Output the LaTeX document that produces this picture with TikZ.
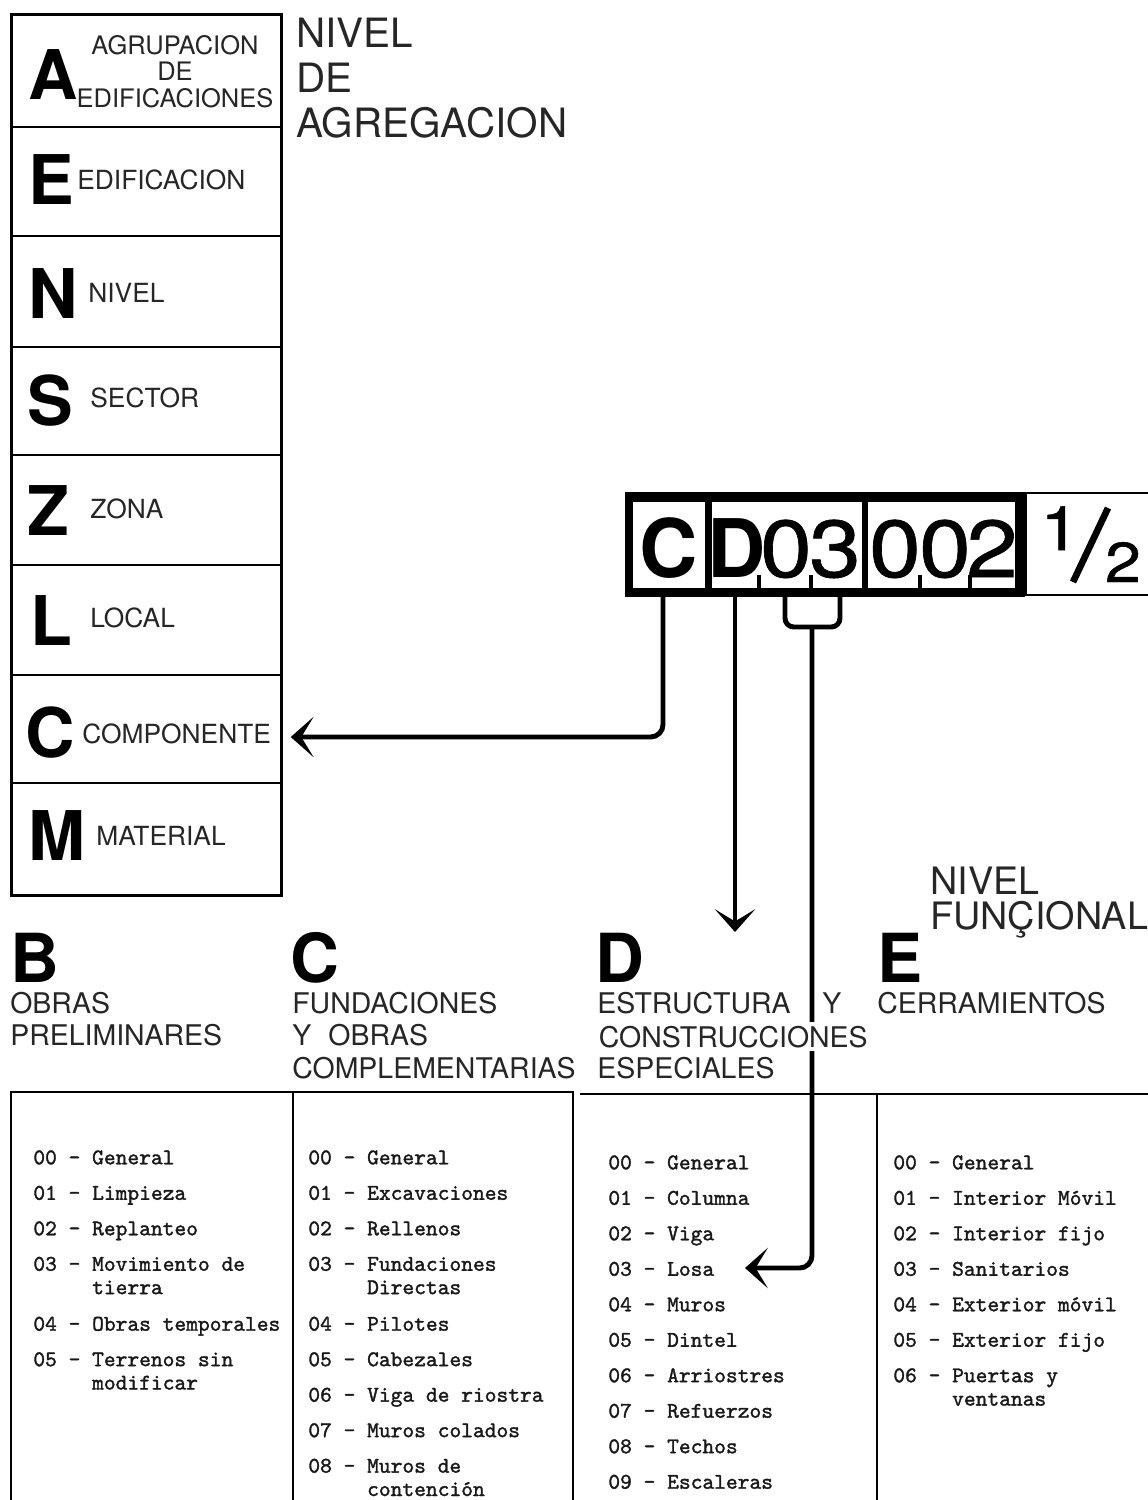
\documentclass[tikz,border=0pt]{standalone}
\usepackage{fontspec}
\setmainfont{TeX Gyre Heros}
\newfontfamily\cifras[FakeStretch=1.15,FakeBold=0.8]{TeX Gyre Heros}
\newfontfamily\maquina[FakeBold=1.5]{lmmono10-regular.otf}
\usetikzlibrary{arrows.meta,calc,positioning}
\newcommand{\sangria}{\hphantom{00 - }}

\begin{document}
\begin{tikzpicture}[x=0.02cm,y=-0.02cm,
    fila/.style={draw,line width=0.9pt,minimum width=5.38cm,inner sep=0pt},
    letra/.style={font=\bfseries\fontsize{39}{39}\selectfont,anchor=base west,inner sep=0pt},
    rotulo/.style={font=\fontsize{15}{18}\selectfont,text=black!85,anchor=base west,inner sep=0pt},
    titulo/.style={font=\fontsize{16.2}{18.4}\selectfont,text=black!85,align=left,anchor=north west,inner sep=0pt},
    celda/.style={fill=white,minimum height=1.72cm,inner sep=0pt},
    codigo/.style={anchor=base,inner sep=0pt,font=\cifras\fontsize{46}{46}\selectfont},
    marca/.style={line width=2.3pt},
    conector/.style={line width=2.8pt,rounded corners=7pt},
    tabla/.style={line width=1pt},
    lista/.style={font=\maquina\fontsize{12.75}{13.3}\selectfont,text=black!90,align=left,anchor=north west,inner sep=0pt},
    >={Stealth[length=13pt,width=23pt,inset=7pt]}]
  \useasboundingbox (0,0) rectangle (1148,1500);

  % niveles de agregacion
  \foreach \letra/\ya/\yb in {A/15/127,E/127/236,N/236/347,S/347/455,Z/455/565,L/565/675,C/675/783,M/783/895}
    \node[fila,minimum height={(\yb-\ya)*0.02cm}] (fila\letra) at (146.5,{(\ya+\yb)/2}) {};
  \draw[line width=1.7pt] (filaA.north west) rectangle (filaM.south east);

  \node[letra] (letA) at (28,100) {A};
  \node[font=\fontsize{14.5}{15}\selectfont,text=black!85,align=center,anchor=north,inner sep=0pt] (rotA) at (175,35) {AGRUPACION\\DE\\EDIFICACIONES};
  \node[letra] (letE) at (28,205) {E};
  \node[rotulo] (rotE) at (77,190) {EDIFICACION};
  \node[letra] (letN) at (28,318) {N};
  \node[rotulo] (rotN) at (88,303) {NIVEL};
  \node[letra] (letS) at (27,425) {S};
  \node[rotulo] (rotS) at (90,407) {SECTOR};
  \node[letra] (letZ) at (27,535) {Z};
  \node[rotulo] (rotZ) at (90,518) {ZONA};
  \node[letra] (letL) at (30,645) {L};
  \node[rotulo] (rotL) at (90,627) {LOCAL};
  \node[letra] (letC) at (25,757) {C};
  \node[rotulo] (rotC) at (82,743) {COMPONENTE};
  \node[letra] (letM) at (28,860) {M};
  \node[rotulo] (rotM) at (96,845) {MATERIAL};

  \node[font=\fontsize{23}{25.5}\selectfont,text=black!85,align=left,anchor=north west,inner sep=0pt] (agregacion) at (296,18) {NIVEL\\DE\\AGREGACION};

  % codigo
  \node[fill=black,minimum width=8cm,minimum height=2.1cm,inner sep=0pt] (marco) at (825,544.5) {};
  \node[celda,minimum width=1.44cm] (celC) at (669,545) {};
  \node[celda,minimum width=3cm] (celD) at (787,545) {};
  \node[celda,minimum width=2.94cm] (celN) at (941.5,545) {};
  \node[draw,line width=1.1pt,minimum width=2.9cm,minimum height=2.04cm,inner sep=0pt,anchor=west] (celF) at (1025,544) {};

  \node[codigo,font=\bfseries\fontsize{46}{46}\selectfont] (digC) at (669,577) {C};
  \node[codigo,font=\bfseries\fontsize{46}{46}\selectfont] (digD) at (737,577) {D};
  \node[codigo] (dig0) at (786,577) {0};
  \node[codigo] (dig3) at (835,577) {3};
  \node[codigo] (digN) at (895,577) {0};
  \node[codigo] (digO) at (945,577) {0};
  \node[codigo] (dig2) at (992,577) {2};
  \foreach \x in {759,811,920,970}
    \draw[marca] (\x,588) -- (\x,575);

  \node[anchor=base,inner sep=0pt,font=\cifras\fontsize{35}{35}\selectfont] (uno) at (1060,550) {1};
  \node[anchor=base,inner sep=0pt,font=\cifras\fontsize{32}{32}\selectfont] (dos) at (1123,582) {2};
  \draw[line width=3.8pt] (1073,582) -- (1108,508);

  % conectores
  \coordinate (puntaD) at (735,932);
  \coordinate (gancho) at (812,627);
  \coordinate (puntaLosa) at (745,1268);
  \draw[conector,->] ($(celC.south)+(-6,0)$) |- ($(filaC.east)+(9,8)$);
  \draw[conector,->] (puntaD |- marco.south) -- (puntaD);
  \draw[conector,rounded corners=5pt] (785,594) |- (gancho) -| (840,594);
  \draw[conector,->] (gancho) |- (puntaLosa);

  % nivel funcional
  \node[letra,font=\bfseries\fontsize{38.5}{38.5}\selectfont] (letB) at (10,982) {B};
  \node[letra,font=\bfseries\fontsize{38.5}{38.5}\selectfont] (letCc) at (290,982) {C};
  \node[letra,font=\bfseries\fontsize{38.5}{38.5}\selectfont] (letD) at (595,982) {D};
  \node[letra,font=\bfseries\fontsize{38.5}{38.5}\selectfont] (letEe) at (877,982) {E};
  \node[titulo] (titB) at (10,992) {OBRAS\\PRELIMINARES};
  \node[titulo] (titC) at (292,992) {FUNDACIONES\\Y\hspace{0.6em}OBRAS\\COMPLEMENTARIAS};
  \node[titulo] (titD) at (597,992) {ESTRUCTURA};
  \node[titulo] (titY) at (822,992) {Y};
  \node[titulo,fill=white,inner sep=2pt] (titD2) at (595,1022) {CONSTRUCCIONES};
  \node[titulo] (titD3) at (597,1057) {ESPECIALES};
  \node[titulo] (titE) at (877,992) {CERRAMIENTOS};
  \node[font=\fontsize{21.5}{19.5}\selectfont,text=black!85,align=left,anchor=north west,inner sep=0pt] (funcional) at (930,867) {NIVEL\\FUNÇIONAL};

  % tabla
  \draw[tabla] (11,1500) -- (11,1092) -- (573,1092) -- (573,1500);
  \draw[tabla] (293,1092) -- (293,1500);
  \draw[tabla] (580,1094) -- (1148,1094);
  \draw[tabla] (877,1094) -- (877,1500);

  \node[lista] (listaB) at (33,1150) {00 - General\\[6.9pt]
    01 - Limpieza\\[6.9pt]
    02 - Replanteo\\[6.9pt]
    03 - Movimiento de\\ \sangria tierra\\[7.5pt]
    04 - Obras temporales\\[6.9pt]
    05 - Terrenos sin\\ \sangria modificar};
  \node[lista] (listaC) at (308,1150) {00 - General\\[6.9pt]
    01 - Excavaciones\\[6.9pt]
    02 - Rellenos\\[6.9pt]
    03 - Fundaciones\\ \sangria Directas\\[7.5pt]
    04 - Pilotes\\[6.9pt]
    05 - Cabezales\\[6.9pt]
    06 - Viga de riostra\\[6.9pt]
    07 - Muros colados\\[6.9pt]
    08 - Muros de\\ \sangria contención};
  \node[lista] (listaD) at (608,1155) {00 - General\\[6.9pt]
    01 - Columna\\[6.9pt]
    02 - Viga\\[6.9pt]
    03 - Losa\\[6.9pt]
    04 - Muros\\[6.9pt]
    05 - Dintel\\[6.9pt]
    06 - Arriostres\\[6.9pt]
    07 - Refuerzos\\[6.9pt]
    08 - Techos\\[6.9pt]
    09 - Escaleras};
  \node[lista] (listaE) at (893,1155) {00 - General\\[6.9pt]
    01 - Interior Móvil\\[6.9pt]
    02 - Interior fijo\\[6.9pt]
    03 - Sanitarios\\[6.9pt]
    04 - Exterior móvil\\[6.9pt]
    05 - Exterior fijo\\[6.9pt]
    06 - Puertas y\\ \sangria ventanas};
\end{tikzpicture}
\end{document}
